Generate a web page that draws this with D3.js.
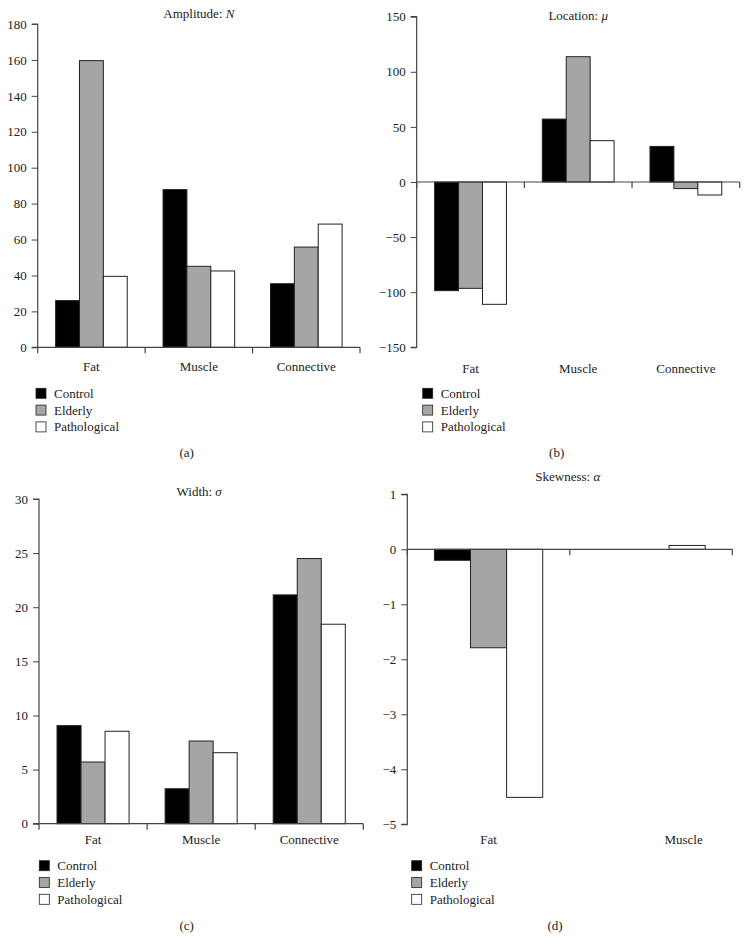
<!DOCTYPE html>
<html><head><meta charset="utf-8">
<script src="https://cdn.jsdelivr.net/npm/d3@7"></script>
<style>body{margin:0;background:#fff}svg{display:block}text{font-family:"Liberation Serif","Times New Roman",serif;fill:#222}</style>
</head><body>
<svg id="c" width="748" height="951"></svg>
<script>
const series = ["Control","Elderly","Pathological"];
const seriesColors = ["#000000","#a5a5a5","#ffffff"];
const catsABC = ["Fat","Muscle","Connective"];
const catsD = ["Fat","Muscle"];
// Amplitude N
const ampControl = [26, 87.8, 35.4];
const ampElderly = [159.6, 45.1, 55.8];
const ampPatho   = [39.5, 42.5, 68.6];
// Location mu
const locControl = [-98.6, 57.1, 32.3];
const locElderly = [-96.5, 113.7, -6];
const locPatho   = [-111, 37.5, -11.8];
// Width sigma
const widControl = [9.06, 3.23, 21.14];
const widElderly = [5.7, 7.64, 24.5];
const widPatho   = [8.54, 6.56, 18.43];
// Skewness alpha
const skwControl = [-0.2, 0];
const skwElderly = [-1.79, 0];
const skwPatho   = [-4.51, 0.07];
// ticks
const ticksA = [0,20,40,60,80,100,120,140,160,180];
const ticksB = [-150,-100,-50,0,50,100,150];
const ticksC = [0,5,10,15,20,25,30];
const ticksD = [-5,-4,-3,-2,-1,0,1];

const FS = 13;
const svg = d3.select("#c");

function panel(o){
  const g = svg.append("g");
  const x = d3.scaleBand().domain(o.cats).range([o.left, o.right]).padding(0);
  const bw = x.bandwidth();
  const x1 = d3.scaleBand().domain(series).range([bw/6, bw*5/6]).padding(0);
  const y = d3.scaleLinear().domain(o.domain).range([o.bottom, o.top]);
  const rows = [];
  o.cats.forEach((c,i)=>series.forEach((s,j)=>rows.push({c, s, j, v:o.values[j][i]})));
  g.selectAll("rect.bar").data(rows.filter(d=>d.v!==0)).join("rect")
    .attr("x", d=>x(d.c)+x1(d.s))
    .attr("width", x1.bandwidth())
    .attr("y", d=>y(Math.max(0,d.v)))
    .attr("height", d=>Math.abs(y(d.v)-y(0)))
    .attr("fill", d=>seriesColors[d.j])
    .attr("stroke","#222").attr("stroke-width",1);
  // y axis
  const ya = g.append("g").attr("transform",`translate(${o.left},0)`)
    .call(d3.axisLeft(y).tickValues(o.ticks).tickSize(6).tickPadding(5).tickFormat(d=>d<0?"\u2212"+Math.abs(d):d));
  ya.select(".domain").attr("stroke","#444").attr("stroke-width",1.2).attr("d",`M-6,${y(o.domain[1])}H0V${y(o.domain[0])}H-6`);
  ya.selectAll(".tick line").attr("stroke","#444");
  ya.selectAll("text").attr("font-size",FS).attr("font-family","Liberation Serif").attr("fill","#222");
  // x axis at zero
  const y0 = y(0);
  const bounds = o.cats.map(c=>x(c)).concat([o.right]);
  g.append("line").attr("x1",o.left).attr("x2",o.right).attr("y1",y0).attr("y2",y0).attr("stroke","#444").attr("stroke-width",1.2);
  g.selectAll("line.xt").data(bounds).join("line").attr("class","xt")
    .attr("x1",d=>d).attr("x2",d=>d).attr("y1",y0).attr("y2",y0+6).attr("stroke","#444").attr("stroke-width",1.2);
  // category labels
  g.selectAll("text.cat").data(o.cats).join("text").attr("class","cat")
    .attr("x",(d,i)=>x(d)+bw/2+i*o.labelShift*bw).attr("y",o.catY).attr("text-anchor","middle")
    .attr("dominant-baseline","central").attr("font-size",FS).text(d=>d);
  // title
  const t = g.append("text").attr("x",(o.left+o.right)/2+o.titleDx).attr("y",o.titleY).attr("text-anchor","middle")
    .attr("dominant-baseline","central").attr("font-size",FS);
  t.append("tspan").text(o.title);
  t.append("tspan").attr("font-style","italic").text(o.sym);
  // legend
  const lg = g.append("g");
  series.forEach((s,j)=>{
    const cy = o.legY + j*16.8;
    lg.append("rect").attr("x",o.legX).attr("y",cy-5).attr("width",10).attr("height",10)
      .attr("fill",seriesColors[j]).attr("stroke","#222").attr("stroke-width",0.8);
    lg.append("text").attr("x",o.legX+18).attr("y",cy).attr("dominant-baseline","central").attr("font-size",FS).text(s);
  });
  g.append("text").attr("x",o.capX).attr("y",o.capY).attr("text-anchor","middle").attr("dominant-baseline","central")
    .attr("font-size",FS).text(o.cap);
}

panel({cats:catsABC, values:[ampControl,ampElderly,ampPatho], domain:[0,180], ticks:ticksA,
  left:37.7, right:360, top:24, bottom:347.3, catY:366, title:"Amplitude: ", sym:"N", titleY:13, titleDx:0,
  legX:36, legY:393.3, capX:186.7, capY:452.7, cap:"(a)", labelShift:0});
panel({cats:catsABC, values:[locControl,locElderly,locPatho], domain:[-150,150], ticks:ticksB,
  left:416.7, right:739.7, top:16.7, bottom:347.3, catY:368.3, title:"Location: ", sym:"\u03bc", titleY:15, titleDx:0,
  legX:422.7, legY:393.3, capX:556.7, capY:452.7, cap:"(b)", labelShift:0});
panel({cats:catsABC, values:[widControl,widElderly,widPatho], domain:[0,30], ticks:ticksC,
  left:39, right:363.3, top:499, bottom:823.7, catY:839.3, title:"Width: ", sym:"\u03c3", titleY:491, titleDx:-2,
  legX:39.3, legY:865.7, capX:186.7, capY:925.3, cap:"(c)", labelShift:0});
panel({cats:catsD, values:[skwControl,skwElderly,skwPatho], domain:[-5,1], ticks:ticksD,
  left:407.3, right:732.3, top:494.3, bottom:824.3, catY:839.3, title:"Skewness: ", sym:"\u03b1", titleY:476, titleDx:-2,
  legX:411.7, legY:865.7, capX:555, capY:925.3, cap:"(d)", labelShift:0.2});
</script>
</body></html>
